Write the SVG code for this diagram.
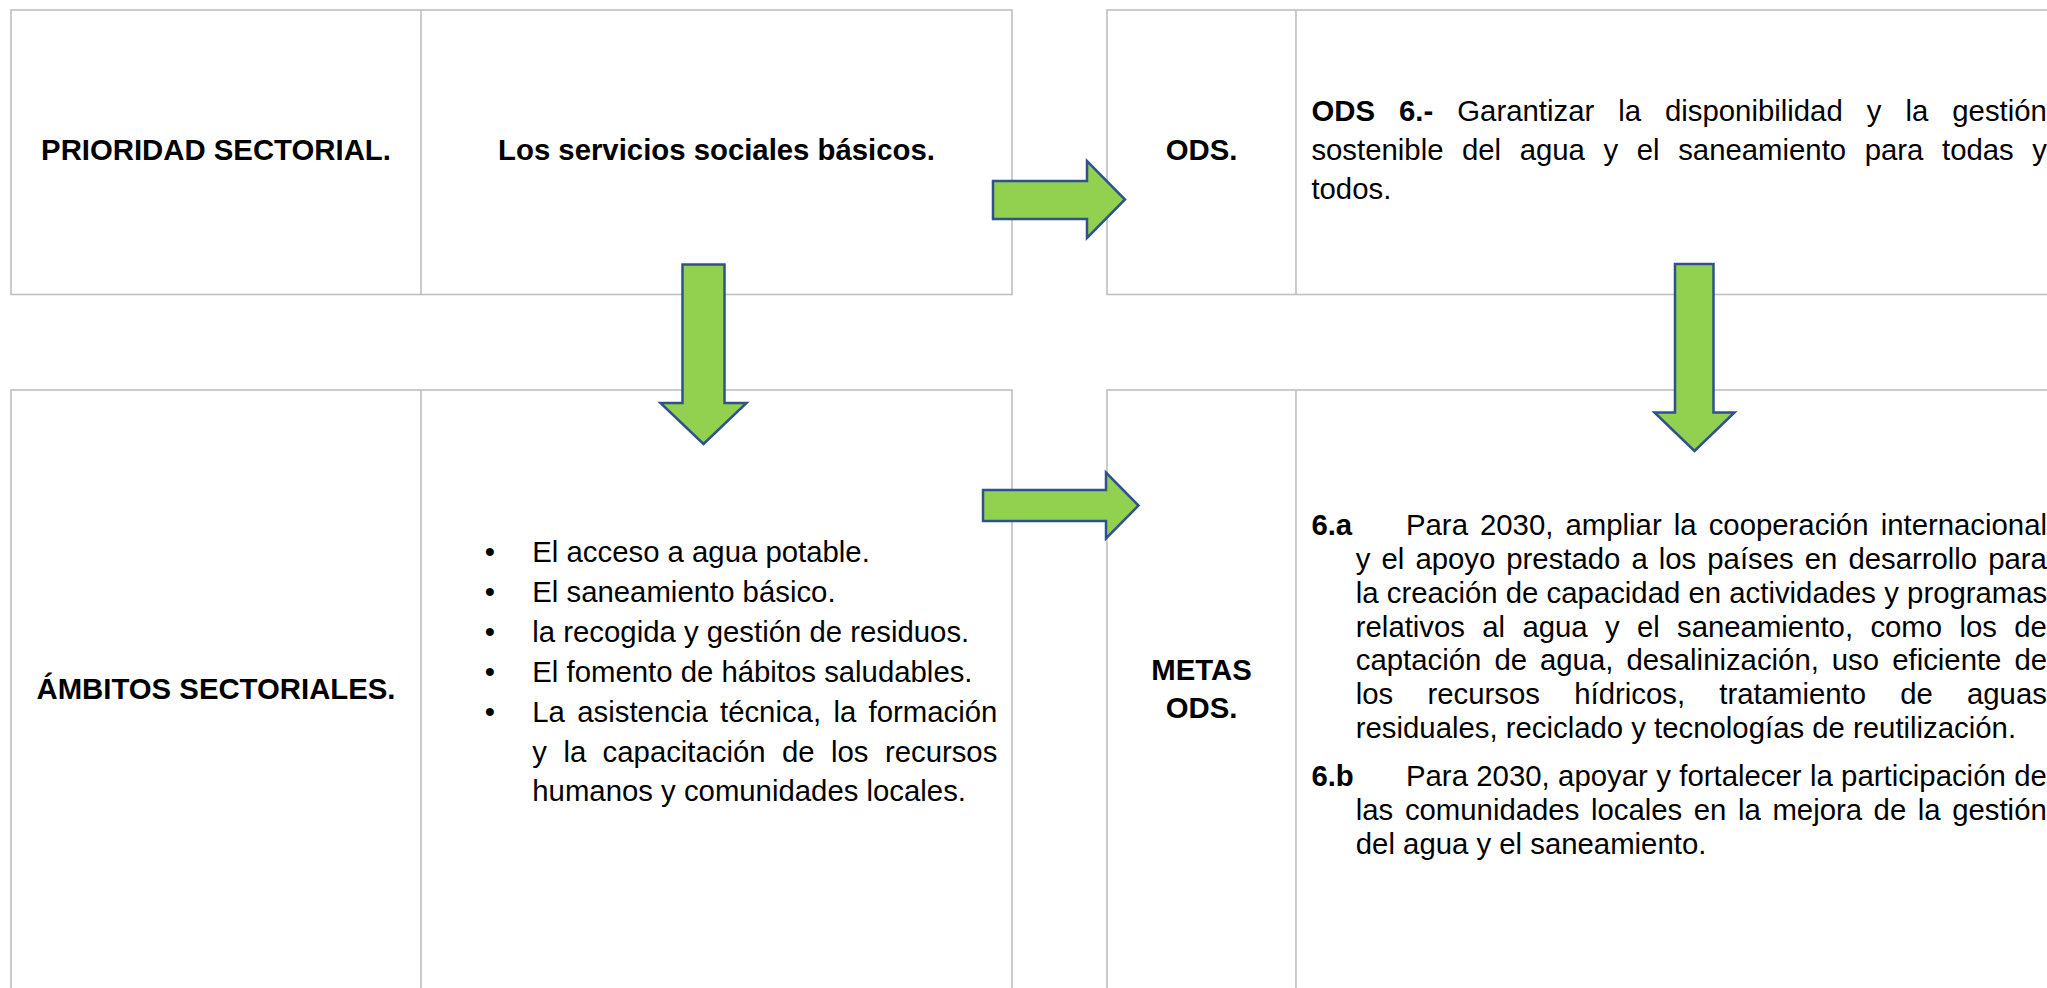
<svg xmlns="http://www.w3.org/2000/svg" width="2047" height="988" viewBox="0 0 2047 988">
<style>
.grid{fill:none;stroke:#BFBFBF;stroke-width:1.6}
.t{font-family:"Liberation Sans",Arial,sans-serif;font-size:29.33px;fill:#000}
.b{font-weight:bold}
.mid{text-anchor:middle}
.arrow{fill:#92D050;stroke:#2F528F;stroke-width:2.5;stroke-linejoin:miter}
</style>
<rect x="0" y="0" width="2047" height="988" fill="#fff"/>

<g id="row-prioridad">
  <rect class="grid" x="11" y="10" width="1001" height="284.5"/>
  <line class="grid" x1="421" y1="10" x2="421" y2="294.5"/>
  <text class="t b mid" x="216" y="160">PRIORIDAD SECTORIAL.</text>
  <text class="t b mid" x="716.5" y="160">Los servicios sociales básicos.</text>
</g>

<g id="row-ods">
  <rect class="grid" x="1107" y="10" width="960" height="284.5"/>
  <line class="grid" x1="1296" y1="10" x2="1296" y2="294.5"/>
  <text class="t b mid" x="1201.5" y="160">ODS.</text>
  <text class="t" y="121"><tspan class="b" x="1311.4">ODS</tspan><tspan class="b" x="1399">6.-</tspan><tspan x="1457.3">Garantizar</tspan><tspan x="1618.2">la</tspan><tspan x="1665">disponibilidad</tspan><tspan x="1866.7">y</tspan><tspan x="1905.4">la</tspan><tspan x="1952.3">gestión</tspan></text>
  <text class="t" y="160"><tspan x="1311.4">sostenible</tspan><tspan x="1462">del</tspan><tspan x="1519.7">agua</tspan><tspan x="1603.5">y</tspan><tspan x="1636.8">el</tspan><tspan x="1678.2">saneamiento</tspan><tspan x="1864.7">para</tspan><tspan x="1942">todas</tspan><tspan x="2032.3">y</tspan></text>
  <text class="t" x="1311.4" y="199">todos.</text>
</g>

<g id="row-ambitos">
  <rect class="grid" x="11" y="390" width="1001" height="620"/>
  <line class="grid" x1="421" y1="390" x2="421" y2="1010"/>
  <text class="t b mid" x="216" y="699">ÁMBITOS SECTORIALES.</text>
  <text class="t" x="484.8" y="562">•</text>
  <text class="t" x="532.3" y="562">El acceso a agua potable.</text>
  <text class="t" x="484.8" y="602">•</text>
  <text class="t" x="532.3" y="602">El saneamiento básico.</text>
  <text class="t" x="484.8" y="642">•</text>
  <text class="t" x="532.3" y="642">la recogida y gestión de residuos.</text>
  <text class="t" x="484.8" y="682">•</text>
  <text class="t" x="532.3" y="682">El fomento de hábitos saludables.</text>
  <text class="t" x="484.8" y="722">•</text>
  <text class="t" y="722"><tspan x="532.3">La</tspan><tspan x="577.3">asistencia</tspan><tspan x="720">técnica,</tspan><tspan x="833.5">la</tspan><tspan x="868.6">formación</tspan></text>
  <text class="t" y="762"><tspan x="532.3">y</tspan><tspan x="563.4">la</tspan><tspan x="602.6">capacitación</tspan><tspan x="782">de</tspan><tspan x="831">los</tspan><tspan x="884.9">recursos</tspan></text>
  <text class="t" x="532.3" y="801">humanos y comunidades locales.</text>
</g>

<g id="row-metas">
  <rect class="grid" x="1107" y="390" width="960" height="620"/>
  <line class="grid" x1="1296" y1="390" x2="1296" y2="1010"/>
  <text class="t b mid" x="1201.5" y="680">METAS</text>
  <text class="t b mid" x="1201.5" y="718">ODS.</text>
  <text class="t" y="535"><tspan class="b" x="1311.4">6.a</tspan><tspan x="1406">Para</tspan><tspan x="1480">2030,</tspan><tspan x="1565.5">ampliar</tspan><tspan x="1673.8">la</tspan><tspan x="1708.7">cooperación</tspan><tspan x="1880.7">internacional</tspan></text>
  <text class="t" y="569"><tspan x="1355.8">y</tspan><tspan x="1381.5">el</tspan><tspan x="1415.4">apoyo</tspan><tspan x="1506.3">prestado</tspan><tspan x="1631.4">a</tspan><tspan x="1658.8">los</tspan><tspan x="1707.3">países</tspan><tspan x="1804.7">en</tspan><tspan x="1848.4">desarrollo</tspan><tspan x="1988.2">para</tspan></text>
  <text class="t" y="603"><tspan x="1355.8">la</tspan><tspan x="1386.8">creación</tspan><tspan x="1505.8">de</tspan><tspan x="1546.6">capacidad</tspan><tspan x="1688.5">en</tspan><tspan x="1729.3">actividades</tspan><tspan x="1884.2">y</tspan><tspan x="1907.1">programas</tspan></text>
  <text class="t" y="637"><tspan x="1355.8">relativos</tspan><tspan x="1482.3">al</tspan><tspan x="1522.4">agua</tspan><tspan x="1604.9">y</tspan><tspan x="1636.9">el</tspan><tspan x="1677">saneamiento,</tspan><tspan x="1870.4">como</tspan><tspan x="1959.4">los</tspan><tspan x="2014.2">de</tspan></text>
  <text class="t" y="670"><tspan x="1355.8">captación</tspan><tspan x="1494.4">de</tspan><tspan x="1540">agua,</tspan><tspan x="1626.5">desalinización,</tspan><tspan x="1831.8">uso</tspan><tspan x="1892.2">eficiente</tspan><tspan x="2014.4">de</tspan></text>
  <text class="t" y="704"><tspan x="1355.8">los</tspan><tspan x="1427.5">recursos</tspan><tspan x="1574.3">hídricos,</tspan><tspan x="1719.3">tratamiento</tspan><tspan x="1900.2">de</tspan><tspan x="1967">aguas</tspan></text>
  <text class="t" x="1355.8" y="738">residuales, reciclado y tecnologías de reutilización.</text>
  <text class="t" y="786"><tspan class="b" x="1311.4">6.b</tspan><tspan x="1406">Para</tspan><tspan x="1476.3">2030,</tspan><tspan x="1558.1">apoyar</tspan><tspan x="1656.2">y</tspan><tspan x="1679.3">fortalecer</tspan><tspan x="1809.9">la</tspan><tspan x="1841.1">participación</tspan><tspan x="2014.2">de</tspan></text>
  <text class="t" y="820"><tspan x="1355.8">las</tspan><tspan x="1404.9">comunidades</tspan><tspan x="1590.9">locales</tspan><tspan x="1693.8">en</tspan><tspan x="1738">la</tspan><tspan x="1772.4">mejora</tspan><tspan x="1873.6">de</tspan><tspan x="1917.8">la</tspan><tspan x="1952.2">gestión</tspan></text>
  <text class="t" x="1355.8" y="854">del agua y el saneamiento.</text>
</g>

<g id="connectors">
  <path class="arrow" d="M993,181 L1087,181 L1087,161 L1125,199.5 L1087,238 L1087,219 L993,219 Z"/>
  <path class="arrow" d="M682.5,264.5 L724.5,264.5 L724.5,403 L746.5,403 L703.5,444 L660.5,403 L682.5,403 Z"/>
  <path class="arrow" d="M983,490 L1106,490 L1106,472.5 L1138.5,505.5 L1106,538.5 L1106,521 L983,521 Z"/>
  <path class="arrow" d="M1675,264 L1713.5,264 L1713.5,412.5 L1734.5,412.5 L1694.5,451 L1654.5,412.5 L1675,412.5 Z"/>
</g>
</svg>
